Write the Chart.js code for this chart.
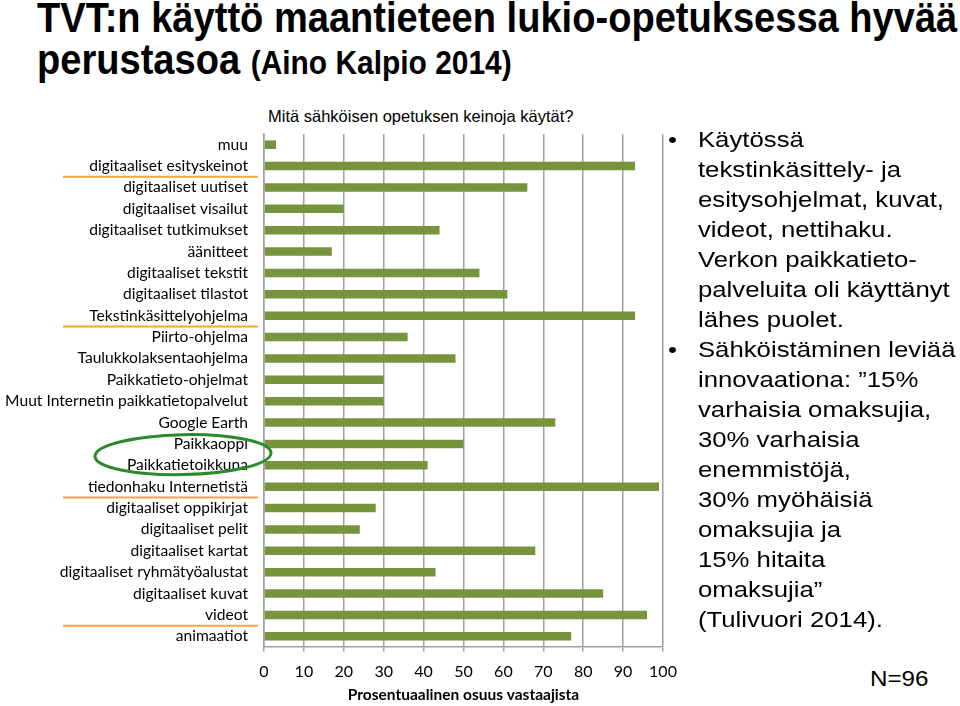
<!DOCTYPE html>
<html lang="fi">
<head>
<meta charset="utf-8">
<title>TVT:n käyttö maantieteen lukio-opetuksessa</title>
<script src="https://cdn.jsdelivr.net/npm/chart.js@4.4.1/dist/chart.umd.min.js"></script>
<style>
  html, body { margin: 0; padding: 0; background: #fff; }
  body { width: 960px; height: 706px; position: relative; overflow: hidden;
         font-family: 'Liberation Sans', Arial, sans-serif; color: #000; }
  h1 { position: absolute; left: 37px; top: -3px; margin: 0;
       font-family: 'Liberation Sans', Arial, sans-serif;
       font-weight: bold; font-size: 42px; line-height: 42px; white-space: nowrap;
       transform-origin: 0 0; }
  h1 span { display: inline-block; }
  h1 small { font-size: 33px; }
  .question { position: absolute; left: 268px; top: 107px; font-size: 16.5px;
              white-space: nowrap; }
  .notes { position: absolute; left: 668px; top: 125px; margin: 0; padding: 0;
           list-style: none; font-size: 22px; line-height: 30px; white-space: nowrap;
           transform: scaleX(1.17); transform-origin: 0 0; }
  .notes li { position: relative; padding-left: 25.6px; }
  .notes li::before { content: '•'; position: absolute; left: 0; top: 0; }
  .n { position: absolute; left: 870px; top: 666px; font-size: 22px;
       transform: scaleX(1.1); transform-origin: 0 0; }
  #wrap { position: absolute; left: 0; top: 126px; width: 690px; height: 580px; }
</style>
</head>
<body>
<h1><span id="l1">TVT:n käyttö maantieteen lukio-opetuksessa hyvää</span><br><span>perustasoa <small>(Aino Kalpio 2014)</small></span></h1>
<div class="question">Mitä sähköisen opetuksen keinoja käytät?</div>
<div id="wrap"><canvas id="bars"></canvas></div>
<ul class="notes">
  <li>Käytössä<br>tekstinkäsittely- ja<br>esitysohjelmat, kuvat,<br>videot, nettihaku.<br>Verkon paikkatieto-<br>palveluita oli käyttänyt<br>lähes puolet.</li>
  <li>Sähköistäminen leviää<br>innovaationa: ”15%<br>varhaisia omaksujia,<br>30% varhaisia<br>enemmistöjä,<br>30% myöhäisiä<br>omaksujia ja<br>15% hitaita<br>omaksujia”<br>(Tulivuori 2014).</li>
</ul>
<div class="n">N=96</div>

<script>
// ─── Data ────────────────────────────────────────────────────────────────

const categories = [
  'muu',
  'digitaaliset esityskeinot',
  'digitaaliset uutiset',
  'digitaaliset visailut',
  'digitaaliset tutkimukset',
  'äänitteet',
  'digitaaliset tekstit',
  'digitaaliset tilastot',
  'Tekstinkäsittelyohjelma',
  'Piirto-ohjelma',
  'Taulukkolaksentaohjelma',
  'Paikkatieto-ohjelmat',
  'Muut Internetin paikkatietopalvelut',
  'Google Earth',
  'Paikkaoppi',
  'Paikkatietoikkuna',
  'tiedonhaku Internetistä',
  'digitaaliset oppikirjat',
  'digitaaliset pelit',
  'digitaaliset kartat',
  'digitaaliset ryhmätyöalustat',
  'digitaaliset kuvat',
  'videot',
  'animaatiot',
];

// % of respondents
const shares = [3, 93, 66, 20, 44, 17, 54, 61, 93, 36, 48, 30,
                30, 73, 50, 41, 99, 28, 24, 68, 43, 85, 96, 77];

const underlined = ['digitaaliset esityskeinot', 'Tekstinkäsittelyohjelma',
                    'tiedonhaku Internetistä', 'videot'];
const circled = ['Paikkaoppi', 'Paikkatietoikkuna'];

const BAR_GREEN = '#77933c';
const GRID_GREY = '#a0a0a0';

// title is set in a condensed face in the original: squeeze line 1 to its width
const h1 = document.querySelector('h1');
h1.style.transform = `scaleX(${920 / document.getElementById('l1').offsetWidth})`;

// ─── Hand-drawn markup (underlines + ellipse) ────────────────────────────

const markups = {
  id: 'markups',
  afterDraw(chart) {
    const { ctx } = chart;
    const y = chart.scales.y;
    ctx.save();
    ctx.strokeStyle = '#f2a93b';
    ctx.lineWidth = 2;
    underlined.forEach(label => {
      const i = categories.indexOf(label);
      const yy = (y.getPixelForValue(i) + y.getPixelForValue(i + 1)) / 2;
      ctx.beginPath();
      ctx.moveTo(63, yy);
      ctx.lineTo(258, yy);
      ctx.stroke();
    });
    const a = categories.indexOf(circled[0]);
    const b = categories.indexOf(circled[1]);
    const cy = (y.getPixelForValue(a) + y.getPixelForValue(b)) / 2;
    ctx.strokeStyle = '#2b8a2b';
    ctx.lineWidth = 3;
    ctx.beginPath();
    ctx.ellipse(183, cy, 88, 20, -0.02, 0, Math.PI * 2);
    ctx.stroke();
    ctx.restore();
  },
};

// ─── Chart ───────────────────────────────────────────────────────────────

new Chart(document.getElementById('bars'), {
  type: 'bar',
  data: {
    labels: categories,
    datasets: [{
      data: shares,
      backgroundColor: BAR_GREEN,
      borderWidth: 0,
      barPercentage: 0.4,
      categoryPercentage: 1,
    }],
  },
  options: {
    indexAxis: 'y',
    responsive: true,
    maintainAspectRatio: false,
    animation: false,
    layout: { padding: { top: 8, right: 27, bottom: 3.5, left: 0 } },
    plugins: {
      legend: { display: false },
      tooltip: { enabled: false },
    },
    scales: {
      x: {
        min: 0,
        max: 100,
        ticks: { stepSize: 10, color: '#000', padding: 7,
                 font: { family: 'Lato', size: 16, lineHeight: 1 } },
        // long tick slot, but only the first few px of each mark are drawn
        grid: { color: GRID_GREY, lineWidth: 1.5, tickLength: 10, tickBorderDash: [4, 20] },
        border: { color: GRID_GREY, width: 1.5 },
        title: {
          display: true,
          text: 'Prosentuaalinen osuus vastaajista',
          color: '#000',
          font: { family: 'Lato', size: 15.5, weight: 'bold', lineHeight: 1 },
          padding: { top: 0, bottom: 0 },
        },
      },
      y: {
        // gap to the axis comes from an invisible tick mark, not ticks.padding,
        // so the axis does not add that gap above the first category
        ticks: { color: '#000', padding: 0, autoSkip: false,
                 font: { family: 'Lato', size: 15.6, lineHeight: 1 } },
        grid: { color: 'transparent', drawTicks: true, tickLength: 16 },
        border: { color: GRID_GREY, width: 1.5 },
        afterFit(scale) { scale.width = 264; },
      },
    },
  },
  plugins: [markups],
});
</script>
</body>
</html>
